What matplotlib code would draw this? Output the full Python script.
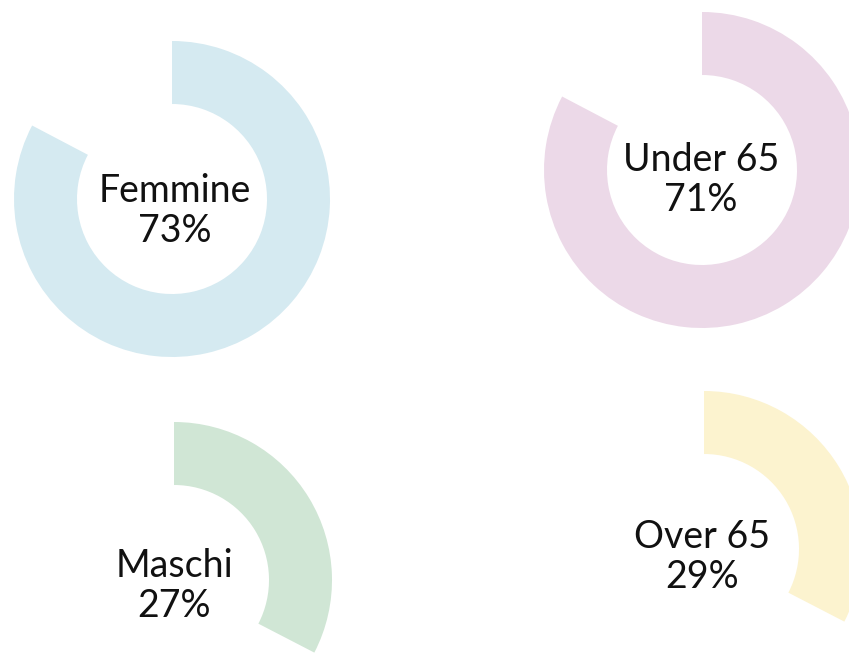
import matplotlib
matplotlib.use("Agg")
import matplotlib.pyplot as plt

# data
labels = ["Femmine", "Maschi", "Under 65", "Over 65"]
values = [73, 27, 71, 29]
# share of the full circle the ring covers
arc_share = [82.7, 32.6, 82.7, 32.6]
colors = ["#d5eaf1", "#d0e6d5", "#ecd9e8", "#fcf3cf"]

# layout (pixel coords, y from top)
centers = [(172, 199), (174, 580), (702, 170), (704, 549)]
text_pos = [(175, 211), (174, 586), (701, 180), (702, 557)]
R = 158
ring = 63

W, H = 849, 653
fig = plt.figure(figsize=(W / 100, H / 100), dpi=100)
ax = fig.add_axes([0, 0, 1, 1])

for lab, v, a, c, (cx, cy), (tx, ty) in zip(labels, values, arc_share, colors, centers, text_pos):
    ax.pie([a, 100 - a], colors=[c, "none"], startangle=90, counterclock=False,
           center=(cx, H - cy), radius=R,
           wedgeprops=dict(width=ring, linewidth=0))
    ax.text(tx, H - ty, f"{lab}\n{v}%", ha="center", va="center",
            fontsize=27, family="Lato", color="#111111", linespacing=1.12)

ax.set_xlim(0, W)
ax.set_ylim(0, H)
ax.set_aspect("equal")
ax.axis("off")

fig.savefig("out.png", dpi=100)
